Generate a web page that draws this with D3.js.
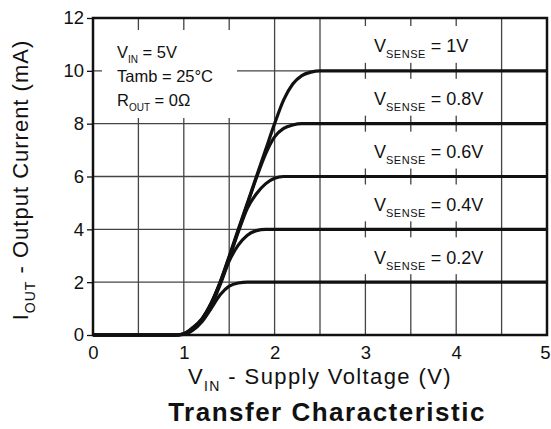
<!DOCTYPE html>
<html>
<head>
<meta charset="utf-8">
<script src="https://cdn.jsdelivr.net/npm/d3@7"></script>
<style>
  body { margin: 0; background: #fff; }
  svg { font-family: "Liberation Sans", Arial, sans-serif; }
</style>
</head>
<body>
<div id="chart"></div>
<script>
// chart size
const width = 551
const height = 429

// data
const vin = [0, 0.9, 1.0, 1.1, 1.2, 1.3, 1.4, 1.5, 1.6, 1.7, 1.8, 1.9, 2.0, 2.1, 2.2, 2.3, 2.4, 2.5, 2.6, 5.0]
const sense1V  = [0, 0, 0.05, 0.28, 0.62, 1.2, 2.0, 2.98, 4.0, 5.0, 6.0, 7.0, 8.0, 8.9, 9.5, 9.82, 9.95, 10, 10, 10]
const sense08V = [0, 0, 0.05, 0.27, 0.6, 1.18, 1.98, 2.95, 3.95, 4.95, 5.95, 6.85, 7.5, 7.82, 7.95, 8, 8, 8, 8, 8]
const sense06V = [0, 0, 0.04, 0.25, 0.58, 1.15, 1.95, 2.9, 3.9, 4.8, 5.35, 5.72, 5.93, 6, 6, 6, 6, 6, 6, 6]
const sense04V = [0, 0, 0.03, 0.22, 0.55, 1.1, 1.9, 2.8, 3.4, 3.78, 3.95, 4, 4, 4, 4, 4, 4, 4, 4, 4]
const sense02V = [0, 0, 0.02, 0.18, 0.5, 1.0, 1.52, 1.85, 1.97, 2, 2, 2, 2, 2, 2, 2, 2, 2, 2, 2]
const seriesValues = [sense1V, sense08V, sense06V, sense04V, sense02V]
const seriesLabels = ["1V", "0.8V", "0.6V", "0.4V", "0.2V"]
const seriesLevels = [10, 8, 6, 4, 2]

const xTicks = [0, 1, 2, 3, 4, 5]
const xGrid = [0.5, 1, 1.5, 2, 2.5, 3, 3.5, 4, 4.5]
const yTicks = [0, 2, 4, 6, 8, 10, 12]

const svg = d3.select("#chart")
  .append("svg")
  .attr("width", width)
  .attr("height", height)

const x = d3.scaleLinear().domain([0, 5]).range([93, 547])
const y = d3.scaleLinear().domain([0, 12]).range([335, 18])

// grid
svg.append("g")
  .selectAll("line")
  .data(xGrid)
  .join("line")
    .attr("x1", d => x(d)).attr("x2", d => x(d))
    .attr("y1", y(12)).attr("y2", y(0))
    .attr("stroke", "#444").attr("stroke-width", 1.3)

svg.append("g")
  .selectAll("line")
  .data(yTicks.slice(1, -1))
  .join("line")
    .attr("x1", x(0)).attr("x2", x(5))
    .attr("y1", d => y(d)).attr("y2", d => y(d))
    .attr("stroke", "#444").attr("stroke-width", 1.3)

// white box behind conditions
svg.append("rect")
  .attr("x", 102).attr("y", 30)
  .attr("width", 135).attr("height", 88)
  .attr("fill", "#fff")

// white boxes behind the VSENSE labels
svg.append("g")
  .selectAll("rect")
  .data(seriesLevels)
  .join("rect")
    .attr("x", x(2.95)).attr("width", x(4.44) - x(2.95))
    .attr("y", d => y(d + 2) + 8)
    .attr("height", d => y(d) - y(d + 2) - 16)
    .attr("fill", "#fff")

// frame
svg.append("rect")
  .attr("x", x(0)).attr("y", y(12))
  .attr("width", x(5) - x(0)).attr("height", y(0) - y(12))
  .attr("fill", "none").attr("stroke", "#111").attr("stroke-width", 2.5)

// y axis (outward ticks only)
const yAxis = svg.append("g")
  .attr("transform", `translate(${x(0)},0)`)
  .call(d3.axisLeft(y).tickValues(yTicks).tickSize(6).tickPadding(3))
yAxis.select(".domain").remove()
yAxis.selectAll(".tick line").attr("stroke", "#111").attr("stroke-width", 1.3)
yAxis.selectAll("text").attr("font-size", 18.5).attr("fill", "#111")
  .attr("font-family", "Liberation Sans, Arial, sans-serif")

// x axis (labels only)
const xAxis = svg.append("g")
  .attr("transform", `translate(0,${y(0)})`)
  .call(d3.axisBottom(x).tickValues(xTicks).tickFormat(d3.format("d")).tickSize(0).tickPadding(11))
xAxis.select(".domain").remove()
xAxis.selectAll("text").attr("font-size", 18.5).attr("fill", "#111")
  .attr("font-family", "Liberation Sans, Arial, sans-serif")
  .attr("dx", d => d === 5 ? -2 : 0)

// curves
const line = d3.line()
  .x((d, i) => x(vin[i]))
  .y(d => y(d))
  .curve(d3.curveMonotoneX)

svg.append("g")
  .selectAll("path")
  .data(seriesValues)
  .join("path")
    .attr("d", d => line(d))
    .attr("fill", "none")
    .attr("stroke", "#111")
    .attr("stroke-width", 3.2)
    .attr("stroke-linejoin", "round")

// VSENSE labels
const lab = svg.append("g")
  .selectAll("text")
  .data(seriesLevels)
  .join("text")
    .attr("x", 374)
    .attr("y", d => (y(d) + y(d + 2)) / 2 + 8)
    .attr("font-size", 18)
    .attr("fill", "#111")
lab.append("tspan").text("V")
lab.append("tspan").attr("font-size", 11).attr("dy", 6).attr("letter-spacing", 0.5).text("SENSE")
lab.append("tspan").attr("dy", -6).text((d, i) => " = " + seriesLabels[i])

// conditions
const cond = svg.append("g").attr("font-size", 16.5).attr("fill", "#111")
const c1 = cond.append("text").attr("x", 117).attr("y", 58)
c1.append("tspan").text("V")
c1.append("tspan").attr("font-size", 10).attr("dy", 5).text("IN")
c1.append("tspan").attr("dy", -5).text(" = 5V")
cond.append("text").attr("x", 117).attr("y", 82).text("Tamb = 25°C")
const c3 = cond.append("text").attr("x", 117).attr("y", 106)
c3.append("tspan").text("R")
c3.append("tspan").attr("font-size", 10).attr("dy", 5).text("OUT")
c3.append("tspan").attr("dy", -5).text(" = 0Ω")

// x axis title
const xt = svg.append("text")
  .attr("x", 320).attr("y", 384)
  .attr("text-anchor", "middle")
  .attr("font-size", 22).attr("letter-spacing", 1.4).attr("fill", "#111")
xt.append("tspan").text("V")
xt.append("tspan").attr("font-size", 14).attr("dy", 7).text("IN")
xt.append("tspan").attr("dy", -7).text(" - Supply Voltage (V)")

// y axis title
const yt = svg.append("text")
  .attr("transform", "translate(28,180) rotate(-90)")
  .attr("text-anchor", "middle")
  .attr("font-size", 22).attr("letter-spacing", 1.0).attr("fill", "#111")
yt.append("tspan").text("I")
yt.append("tspan").attr("font-size", 14).attr("dy", 7).text("OUT")
yt.append("tspan").attr("dy", -7).text(" - Output Current (mA)")

// chart title
svg.append("text")
  .attr("x", 327).attr("y", 421)
  .attr("text-anchor", "middle")
  .attr("font-size", 26).attr("font-weight", "bold").attr("letter-spacing", 1.5).attr("fill", "#111")
  .text("Transfer Characteristic")
</script>
</body>
</html>
